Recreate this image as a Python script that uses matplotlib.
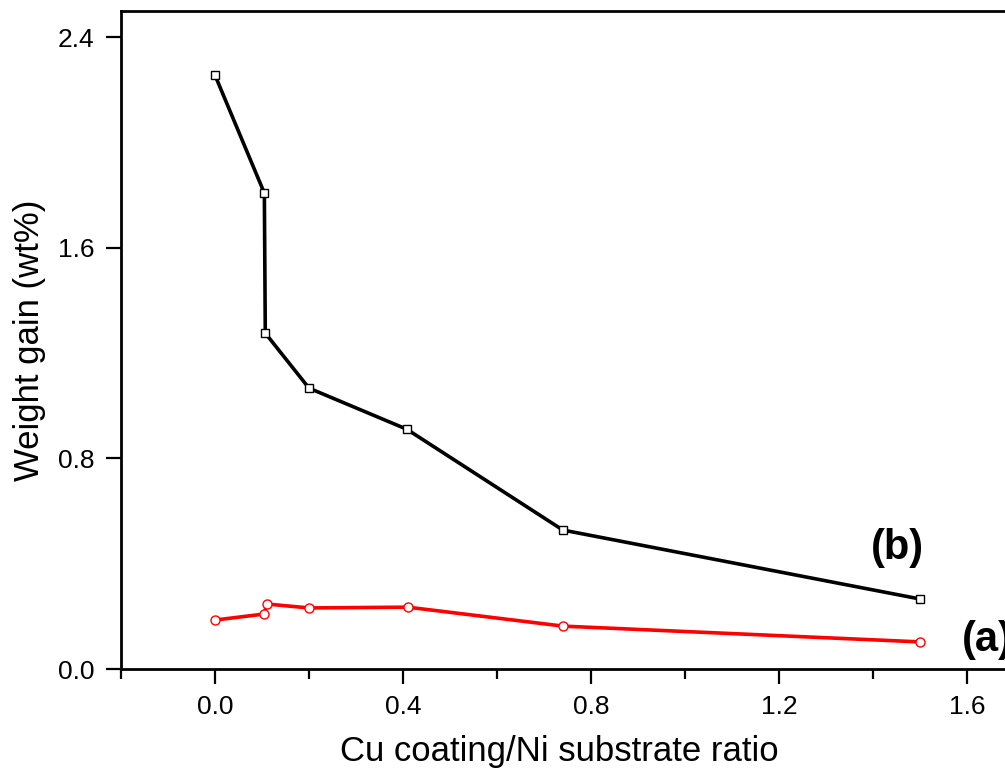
import matplotlib.pyplot as plt
from matplotlib.ticker import MultipleLocator

plt.rcParams['font.family'] = ['Liberation Sans', 'DejaVu Sans']

# Cu coating / Ni substrate ratio
ratio_b = [0.0, 0.105, 0.107, 0.2, 0.408, 0.74, 1.5]
gain_b = [2.256, 1.808, 1.276, 1.067, 0.911, 0.528, 0.266]

ratio_a = [0.0, 0.105, 0.11, 0.2, 0.41, 0.74, 1.5]
gain_a = [0.186, 0.209, 0.247, 0.232, 0.235, 0.163, 0.103]

fig = plt.figure(figsize=(10.05, 7.72), dpi=100)
# axes box runs past the right edge of the figure, as in the original image
ax = fig.add_axes([0.1204, 0.1334, 0.9353, 0.8524])

ax.plot(ratio_b, gain_b, color='black', lw=2.6, marker='s', ms=6,
        mfc='white', mec='black', mew=1.0)
ax.plot(ratio_a, gain_a, color='red', lw=2.6, marker='o', ms=6.5,
        mfc='white', mec='red', mew=1.0)

ax.set_xlim(-0.2, 1.8)
ax.set_ylim(0.0, 2.5)
ax.xaxis.set_major_locator(MultipleLocator(0.4))
ax.xaxis.set_minor_locator(MultipleLocator(0.2))
ax.yaxis.set_major_locator(MultipleLocator(0.8))
ax.xaxis.set_major_formatter(plt.FormatStrFormatter('%.1f'))
ax.yaxis.set_major_formatter(plt.FormatStrFormatter('%.1f'))

ax.tick_params(which='major', direction='out', length=11, width=1.6,
               labelsize=19, pad=8)
ax.tick_params(which='minor', direction='out', length=7, width=1.6)
for s in ax.spines.values():
    s.set_linewidth(2.0)

ax.set_xlabel('Cu coating/Ni substrate ratio', fontsize=25)
ax.set_ylabel('Weight gain (wt%)', fontsize=25)
ax.xaxis.set_label_coords(0.466, -0.1)
ax.yaxis.set_label_coords(-0.08, 0.5)

ax.text(1.451, 0.46, '(b)', fontsize=30, fontweight='bold', ha='center', va='center')
ax.text(1.59, 0.11, '(a)', fontsize=30, fontweight='bold', ha='left', va='center')

plt.savefig('out.png', dpi=100)
